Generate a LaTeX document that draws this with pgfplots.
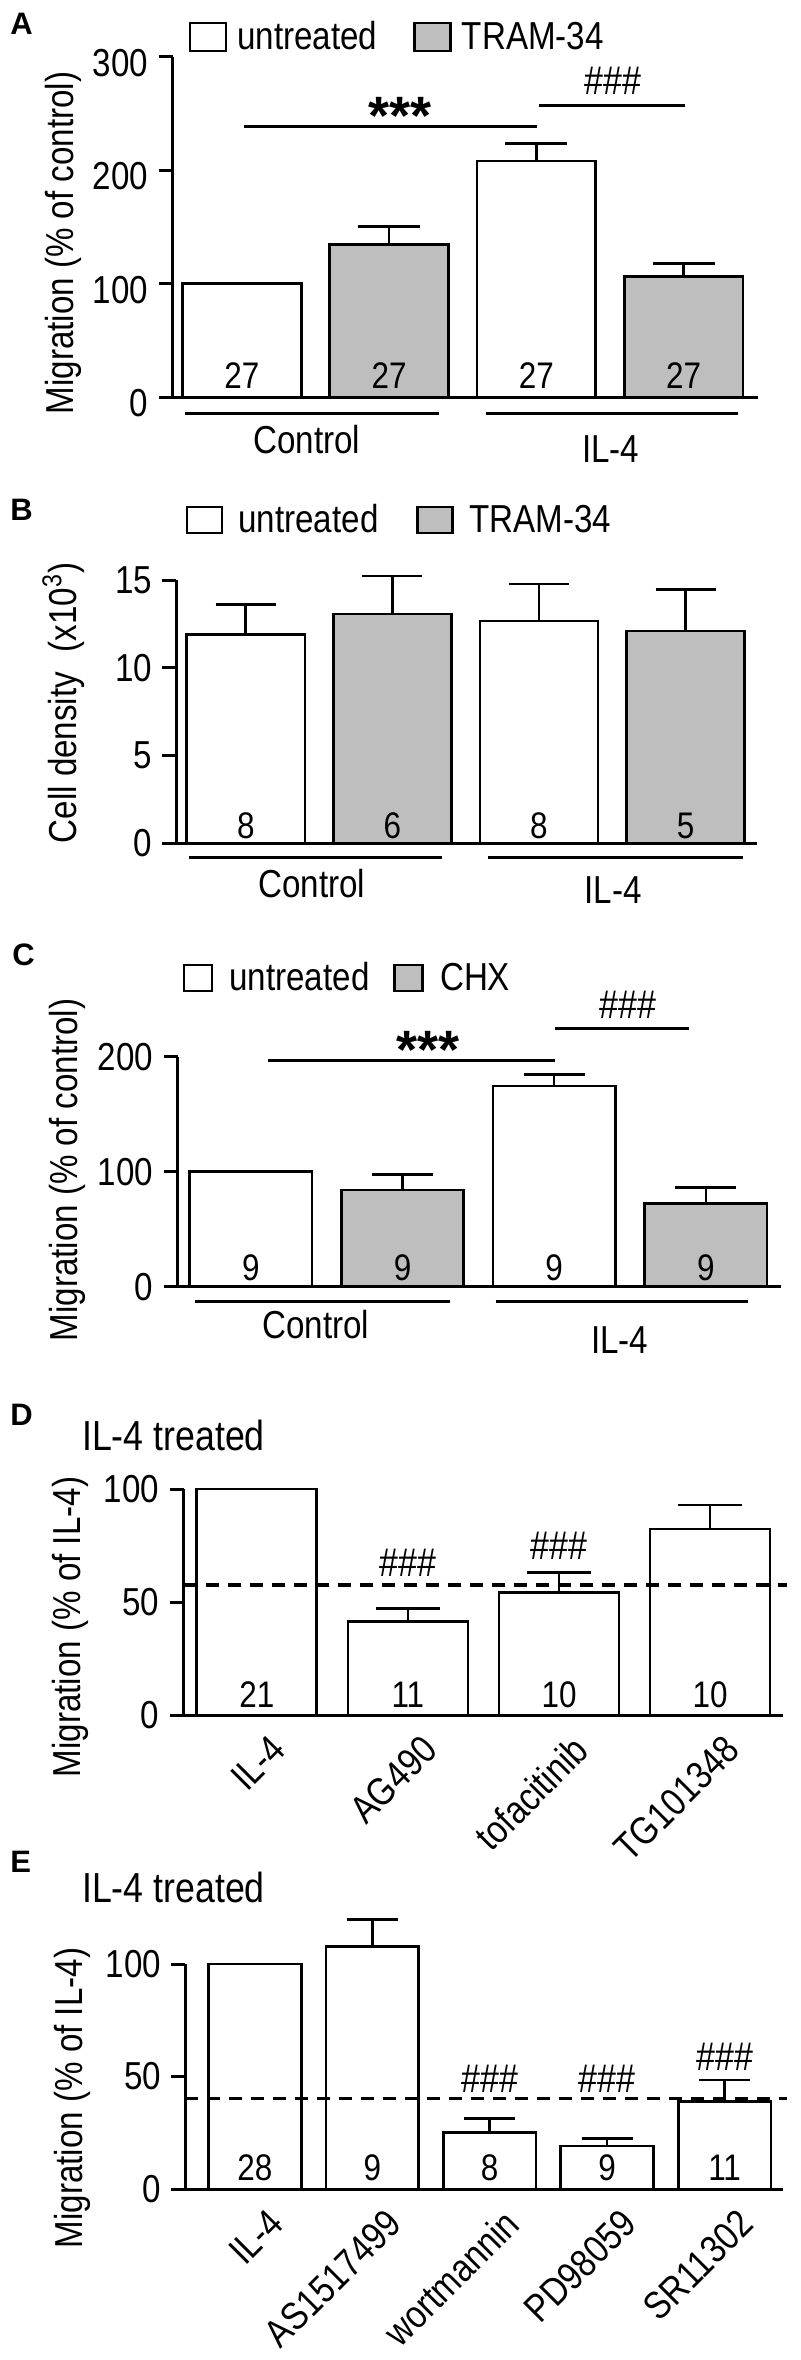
\documentclass[border=0pt]{standalone}
\usepackage{fontspec}
\setmainfont{Liberation Sans}[FakeStretch=0.85]
\newfontfamily\letterfont{Liberation Sans}
\usepackage{pgfplots}
\pgfplotsset{compat=1.18}
\definecolor{barg}{RGB}{190,190,190}
\newcommand\lab{\fontsize{19.5pt}{23pt}\selectfont}
\newcommand\nlab{\fontsize{18.5pt}{22pt}\selectfont}
\newcommand\titlefont{\fontsize{21pt}{24pt}\selectfont}
\newcommand\hashfont{\fontsize{20pt}{22pt}\selectfont}
\newcommand\starfont{\letterfont\bfseries\fontsize{27pt}{30pt}\selectfont}
\newcommand\panelfont{\letterfont\bfseries\fontsize{15.5pt}{18pt}\selectfont}
\def\LW{18pt}\def\LH{7pt}\def\LG{23pt}
\tikzset{sig/.style={line width=1.5pt, black}}
\pgfplotsset{
  panel/.style={
    scale only axis, clip=false, anchor=south west,
    axis x line*=bottom, axis y line*=left,
    axis line style={line width=1.5pt, black},
    tick align=outside, major tick length=7pt,
    ytick style={line width=1.5pt, black},
    xtick style={draw=none},
    ymin=0,
    /pgf/number format/assume math mode=true,
    ticklabel style={font=\lab},
    yticklabel style={inner sep=0pt, xshift=-5pt},
  },
  bars/.style={ybar, bar shift=0pt, bar width=0.806, line width=1.3pt, draw=black,
    /pgfplots/error bars/y dir=plus, /pgfplots/error bars/y explicit,
    /pgfplots/error bars/error bar style={line width=1.3pt, black, solid},
    /pgfplots/error bars/error mark options={rotate=90, line width=1.3pt, mark size=#1, black, solid},
    legend image code/.code={\draw[##1, line width=1.3pt] (0pt,-\LH) rectangle (\LW,\LH); \path (\LG,0pt);}},
  rotlabels/.style={xticklabel style={xshift=6pt, yshift=-2pt, rotate=45, anchor=north east, inner sep=0pt}},
}
\begin{document}
\begin{tikzpicture}
\useasboundingbox (0,0) rectangle (400pt,-1180pt);

% ---------------- Panel A ----------------
\begin{axis}[panel, at={(86.35pt,-198.5pt)}, width=292.8pt, height=170pt,
  xmin=-0.470, xmax=3.508, ymax=300, ytick={0,100,200,300}, xtick=\empty,
  yticklabel style={yshift=-3pt},
  legend columns=2,
  legend style={draw=none, fill=none, inner sep=0pt, at={(axis description cs:0.0266,1.0588)}, anchor=west, font=\lab,
    /tikz/every even column/.append style={column sep=18pt}, nodes={inner sep=0pt}},
]
\addplot[fill=white, bars=15.5pt] coordinates {(0,100) +- (0,0) (2,208.2) +- (0,15.3)};
\addlegendentry{untreated}
\addplot[fill=barg, bars=15.5pt] coordinates {(1,134.4) +- (0,16.2) (3,106.3) +- (0,11.4)};
\addlegendentry{TRAM-34}
\draw[sig] (axis cs:0.013,239) -- (axis cs:2.007,239);
\node[anchor=base, inner sep=0pt, font=\starfont, yshift=-4pt] at (axis cs:1.071,239) {***};
\draw[sig] (axis cs:2.02,257.6) -- (axis cs:3.01,257.6);
\node[anchor=base, inner sep=0pt, font=\hashfont, yshift=5.5pt] at (axis cs:2.521,257.6) {\#\#\#};
\draw[sig] ([yshift=-8.2pt]axis cs:-0.384,0) -- ([yshift=-8.2pt]axis cs:1.34,0);
\draw[sig] ([yshift=-8.2pt]axis cs:1.656,0) -- ([yshift=-8.2pt]axis cs:3.372,0);
\node[anchor=base, inner sep=0pt, font=\lab, yshift=-28pt] at (axis cs:0.44,0) {Control};
\node[anchor=base, inner sep=0pt, font=\lab, yshift=-32.5pt] at (axis cs:2.505,0) {IL-4};
\node[anchor=base, inner sep=0pt, font=\nlab, yshift=4.5pt] at (axis cs:0,0) {27};
\node[anchor=base, inner sep=0pt, font=\nlab, yshift=4.5pt] at (axis cs:1,0) {27};
\node[anchor=base, inner sep=0pt, font=\nlab, yshift=4.5pt] at (axis cs:2,0) {27};
\node[anchor=base, inner sep=0pt, font=\nlab, yshift=4.5pt] at (axis cs:3,0) {27};
\end{axis}

% ---------------- Panel B ----------------
\def\LW{17.5pt}\def\LH{6.5pt}\def\LG{25pt}
\begin{axis}[panel, at={(88.2pt,-421.65pt)}, width=290.5pt, height=131.65pt,
  xmin=-0.473, xmax=3.490, ymax=15, ytick={0,5,10,15}, xtick=\empty,
  legend columns=2,
  legend style={draw=none, fill=none, inner sep=0pt, at={(axis description cs:0.0155,1.228)}, anchor=west, font=\lab,
    /tikz/every even column/.append style={column sep=19pt}, nodes={inner sep=0pt}},
]
\addplot[fill=white, bars=15pt] coordinates {(0,11.9) +- (0,1.7) (2,12.66) +- (0,2.11)};
\addlegendentry{untreated}
\addplot[fill=barg, bars=15pt] coordinates {(1,13.06) +- (0,2.17) (3,12.09) +- (0,2.38)};
\addlegendentry{TRAM-34}
\draw[sig] ([yshift=-7.2pt]axis cs:-0.386,0) -- ([yshift=-7.2pt]axis cs:1.339,0);
\draw[sig] ([yshift=-7.2pt]axis cs:1.651,0) -- ([yshift=-7.2pt]axis cs:3.39,0);
\node[anchor=base, inner sep=0pt, font=\lab, yshift=-26.85pt] at (axis cs:0.45,0) {Control};
\node[anchor=base, inner sep=0pt, font=\lab, yshift=-29.85pt] at (axis cs:2.507,0) {IL-4};
\node[anchor=base, inner sep=0pt, font=\nlab, yshift=2.65pt] at (axis cs:0,0) {8};
\node[anchor=base, inner sep=0pt, font=\nlab, yshift=2.65pt] at (axis cs:1,0) {6};
\node[anchor=base, inner sep=0pt, font=\nlab, yshift=2.65pt] at (axis cs:2,0) {8};
\node[anchor=base, inner sep=0pt, font=\nlab, yshift=2.65pt] at (axis cs:3,0) {5};
\end{axis}

% ---------------- Panel C ----------------
\def\LW{14pt}\def\LH{6.5pt}\def\LG{22pt}
\begin{axis}[panel, at={(88.85pt,-643.35pt)}, width=301.7pt, height=115pt,
  xmin=-0.482, xmax=3.496, ymax=200, ytick={0,100,200}, xtick=\empty,
  legend columns=2,
  legend style={draw=none, fill=none, inner sep=0pt, at={(axis description cs:0.0078,1.342)}, anchor=west, font=\lab,
    /tikz/every even column/.append style={column sep=12pt}, nodes={inner sep=0pt}},
]
\addplot[fill=white, bars=15.3pt] coordinates {(0,100) +- (0,0) (2,174.5) +- (0,10.2)};
\addlegendentry{untreated}
\addplot[fill=barg, bars=15.3pt] coordinates {(1,84.1) +- (0,13.6) (3,72.5) +- (0,13.9)};
\addlegendentry{CHX}
\draw[sig] (axis cs:0.115,197.1) -- (axis cs:2.007,197.1);
\node[anchor=base, inner sep=0pt, font=\starfont, yshift=-4pt] at (axis cs:1.169,197.1) {***};
\draw[sig] (axis cs:2.007,224.7) -- (axis cs:2.889,224.7);
\node[anchor=base, inner sep=0pt, font=\hashfont, yshift=5pt] at (axis cs:2.484,224.7) {\#\#\#};
\draw[sig] ([yshift=-7.5pt]axis cs:-0.366,0) -- ([yshift=-7.5pt]axis cs:1.314,0);
\draw[sig] ([yshift=-7.5pt]axis cs:1.614,0) -- ([yshift=-7.5pt]axis cs:3.281,0);
\node[anchor=base, inner sep=0pt, font=\lab, yshift=-25.65pt] at (axis cs:0.429,0) {Control};
\node[anchor=base, inner sep=0pt, font=\lab, yshift=-33.15pt] at (axis cs:2.431,0) {IL-4};
\node[anchor=base, inner sep=0pt, font=\nlab, yshift=3.35pt] at (axis cs:0,0) {9};
\node[anchor=base, inner sep=0pt, font=\nlab, yshift=3.35pt] at (axis cs:1,0) {9};
\node[anchor=base, inner sep=0pt, font=\nlab, yshift=3.35pt] at (axis cs:2,0) {9};
\node[anchor=base, inner sep=0pt, font=\nlab, yshift=3.35pt] at (axis cs:3,0) {9};
\end{axis}

% ---------------- Panel D ----------------
\begin{axis}[panel, rotlabels, at={(91.75pt,-857.5pt)}, width=299.8pt, height=113pt,
  xmin=-0.485, xmax=3.483, ymax=100, ytick={0,50,100},
  xtick={0,1,2,3}, xticklabels={IL-4, AG490, tofacitinib, TG101348},
]
\addplot[fill=white, bars=16pt, bar width=0.794] coordinates {(0,100) +- (0,0) (1,41.3) +- (0,5.9) (2,54.3) +- (0,8.8) (3,82.3) +- (0,10.6)};
\addplot[forget plot, line width=1.6pt, black, dash pattern=on 6.5pt off 4.5pt] coordinates {(-0.485,57.5) (3.51,57.5)};
\node[anchor=base, inner sep=0pt, font=\hashfont] at (axis cs:1,61.1) {\#\#\#};
\node[anchor=base, inner sep=0pt, font=\hashfont] at (axis cs:2,68.6) {\#\#\#};
\node[anchor=base, inner sep=0pt, font=\nlab, yshift=4pt] at (axis cs:0,0) {21};
\node[anchor=base, inner sep=0pt, font=\nlab, yshift=4pt] at (axis cs:1,0) {11};
\node[anchor=base, inner sep=0pt, font=\nlab, yshift=4pt] at (axis cs:2,0) {10};
\node[anchor=base, inner sep=0pt, font=\nlab, yshift=4pt] at (axis cs:3,0) {10};
\end{axis}

% ---------------- Panel E ----------------
\begin{axis}[panel, rotlabels, at={(92.7pt,-1094.5pt)}, width=298.85pt, height=112.5pt,
  xmin=-0.591, xmax=4.498, ymax=100, ytick={0,50,100},
  xtick={0,1,2,3,4}, xticklabels={IL-4, AS1517499, wortmannin, PD98059, SR11302},
]
\addplot[fill=white, bars=12.8pt, bar width=0.79] coordinates {(0,100) +- (0,0) (1,107.7) +- (0,12.2) (2,25.0) +- (0,6.4) (3,19.1) +- (0,3.4) (4,38.8) +- (0,9.6)};
\addplot[forget plot, line width=1.6pt, black, dash pattern=on 6.5pt off 4.5pt] coordinates {(-0.591,40.3) (4.53,40.3)};
\node[anchor=base, inner sep=0pt, font=\hashfont] at (axis cs:2,42.7) {\#\#\#};
\node[anchor=base, inner sep=0pt, font=\hashfont] at (axis cs:3,42.7) {\#\#\#};
\node[anchor=base, inner sep=0pt, font=\hashfont] at (axis cs:4,52.9) {\#\#\#};
\node[anchor=base, inner sep=0pt, font=\nlab, yshift=4.5pt] at (axis cs:0,0) {28};
\node[anchor=base, inner sep=0pt, font=\nlab, yshift=4.5pt] at (axis cs:1,0) {9};
\node[anchor=base, inner sep=0pt, font=\nlab, yshift=4.5pt] at (axis cs:2,0) {8};
\node[anchor=base, inner sep=0pt, font=\nlab, yshift=4.5pt] at (axis cs:3,0) {9};
\node[anchor=base, inner sep=0pt, font=\nlab, yshift=4.5pt] at (axis cs:4,0) {11};
\end{axis}

% ---------------- Outer texts ----------------
\begin{scope}[x=0.5pt,y=-0.5pt]
\node[anchor=base west, inner sep=0pt, font=\panelfont] at (10,35) {A};
\node[anchor=base west, inner sep=0pt, font=\panelfont] at (10,520) {B};
\node[anchor=base west, inner sep=0pt, font=\panelfont] at (12,965) {C};
\node[anchor=base west, inner sep=0pt, font=\panelfont] at (10,1425) {D};
\node[anchor=base west, inner sep=0pt, font=\panelfont] at (10,1872) {E};
\node[rotate=90, inner sep=0pt, font=\lab] at (63.4,243) {Migration (\% of control)};
\node[rotate=90, inner sep=0pt, font=\lab] at (63.4,703) {Cell density\hspace{0.5em}(x10\textsuperscript{3})};
\node[rotate=90, inner sep=0pt, font=\lab] at (67.5,1170) {Migration (\% of control)};
\node[rotate=90, inner sep=0pt, font=\lab] at (70.4,1627) {Migration (\% of IL-4)};
\node[rotate=90, inner sep=0pt, font=\lab] at (72.4,2098) {Migration (\% of IL-4)};
\node[anchor=base west, inner sep=0pt, font=\titlefont] at (81.8,1450) {IL-4 treated};
\node[anchor=base west, inner sep=0pt, font=\titlefont] at (81.8,1902) {IL-4 treated};
\end{scope}
\end{tikzpicture}
\end{document}
